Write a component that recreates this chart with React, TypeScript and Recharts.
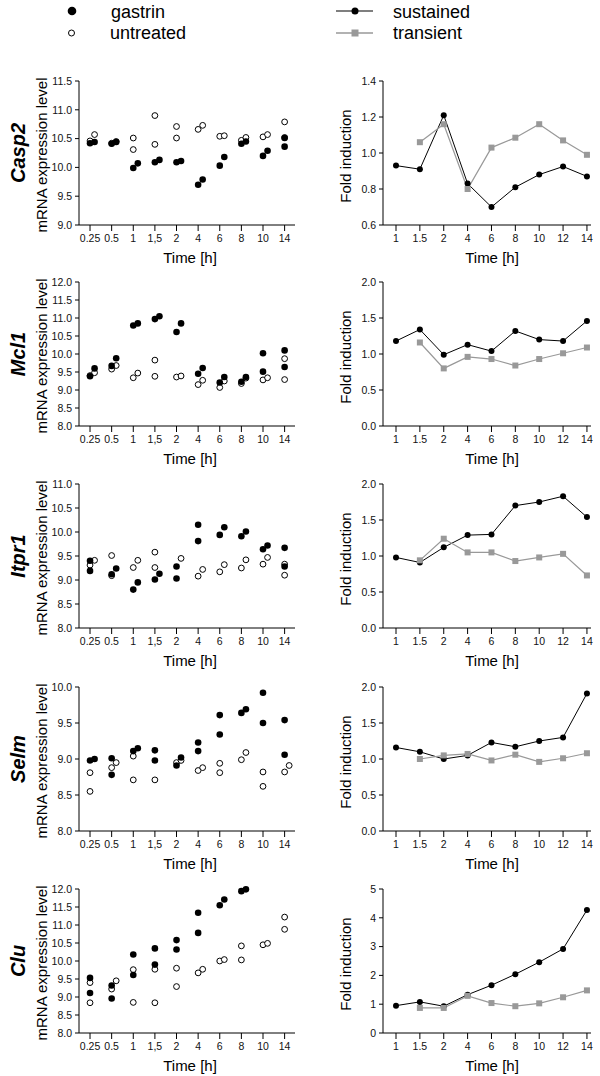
import React from 'react';
import { ScatterChart, Scatter, LineChart, Line, XAxis, YAxis } from 'recharts';

const FONT = '"Liberation Sans", Arial, Helvetica, sans-serif';

// ---------- categories / tick labels ----------
const timeLabelsLeft = ['0.25', '0.5', '1', '1,5', '2', '4', '6', '8', '10', '14'];
const timeLabelsRight = ['1', '1.5', '2', '4', '6', '8', '10', '12', '14'];
const genes = ['Casp2', 'Mcl1', 'Itpr1', 'Selm', 'Clu'];

// expression axis ticks
const casp2ExprTicks = [9.0, 9.5, 10.0, 10.5, 11.0, 11.5];
const mcl1ExprTicks = [8.0, 8.5, 9.0, 9.5, 10.0, 10.5, 11.0, 11.5, 12.0];
const itpr1ExprTicks = [8.0, 8.5, 9.0, 9.5, 10.0, 10.5, 11.0];
const selmExprTicks = [8.0, 8.5, 9.0, 9.5, 10.0];
const cluExprTicks = [8.0, 8.5, 9.0, 9.5, 10.0, 10.5, 11.0, 11.5, 12.0];

// fold-induction axis ticks
const casp2FoldTicks = [0.6, 0.8, 1.0, 1.2, 1.4];
const mcl1FoldTicks = [0.0, 0.5, 1.0, 1.5, 2.0];
const itpr1FoldTicks = [0.0, 0.5, 1.0, 1.5, 2.0];
const selmFoldTicks = [0.0, 0.5, 1.0, 1.5, 2.0];
const cluFoldTicks = [0, 1, 2, 3, 4, 5];

// ---------- replicate data: [time index, replicate (0 / 1 = side-shifted), value] ----------
const casp2Gastrin = [
  [0, 0, 10.42], [0, 1, 10.44], [1, 0, 10.41], [1, 1, 10.44], [2, 0, 9.99], [2, 1, 10.07],
  [3, 0, 10.09], [3, 1, 10.13], [4, 0, 10.09], [4, 1, 10.11], [5, 0, 9.70], [5, 1, 9.79],
  [6, 0, 10.03], [6, 1, 10.18], [7, 0, 10.41], [7, 1, 10.45], [8, 0, 10.20], [8, 1, 10.29],
  [9, 0, 10.51], [9, 0, 10.36],
];
const casp2Untreated = [
  [0, 0, 10.46], [0, 1, 10.57], [1, 0, 10.42], [1, 1, 10.45], [2, 0, 10.51], [2, 0, 10.31],
  [3, 0, 10.90], [3, 0, 10.40], [4, 0, 10.71], [4, 0, 10.51], [5, 0, 10.66], [5, 1, 10.73],
  [6, 0, 10.54], [6, 1, 10.55], [7, 0, 10.47], [7, 1, 10.52], [8, 0, 10.53], [8, 1, 10.57],
  [9, 0, 10.79], [9, 0, 10.52],
];
const mcl1Gastrin = [
  [0, 0, 9.38], [0, 1, 9.60], [1, 0, 9.67], [1, 1, 9.88], [2, 0, 10.79], [2, 1, 10.85],
  [3, 0, 10.97], [3, 1, 11.05], [4, 0, 10.61], [4, 1, 10.85], [5, 0, 9.45], [5, 1, 9.61],
  [6, 0, 9.21], [6, 1, 9.36], [7, 0, 9.23], [7, 1, 9.36], [8, 0, 10.02], [8, 0, 9.51],
  [9, 0, 10.10], [9, 0, 9.64],
];
const mcl1Untreated = [
  [0, 0, 9.40], [0, 1, 9.48], [1, 0, 9.58], [1, 1, 9.68], [2, 0, 9.34], [2, 1, 9.47],
  [3, 0, 9.83], [3, 0, 9.38], [4, 0, 9.36], [4, 1, 9.39], [5, 0, 9.15], [5, 1, 9.27],
  [6, 0, 9.07], [6, 1, 9.25], [7, 0, 9.18], [7, 1, 9.33], [8, 0, 9.28], [8, 1, 9.34],
  [9, 0, 9.87], [9, 0, 9.29],
];
const itpr1Gastrin = [
  [0, 0, 9.40], [0, 0, 9.19], [1, 0, 9.12], [1, 1, 9.24], [2, 0, 8.80], [2, 1, 8.95],
  [3, 0, 9.01], [3, 1, 9.13], [4, 0, 9.28], [4, 0, 9.03], [5, 0, 10.15], [5, 0, 9.81],
  [6, 0, 9.94], [6, 1, 10.10], [7, 0, 9.91], [7, 1, 10.01], [8, 0, 9.64], [8, 1, 9.72],
  [9, 0, 9.67], [9, 0, 9.28],
];
const itpr1Untreated = [
  [0, 0, 9.31], [0, 1, 9.41], [1, 0, 9.51], [1, 0, 9.09], [2, 0, 9.26], [2, 1, 9.41],
  [3, 0, 9.58], [3, 0, 9.26], [4, 1, 9.45], [5, 0, 9.08], [5, 1, 9.22],
  [6, 0, 9.17], [6, 1, 9.32], [7, 0, 9.25], [7, 1, 9.42], [8, 0, 9.33], [8, 1, 9.47],
  [9, 0, 9.33], [9, 0, 9.10],
];
const selmGastrin = [
  [0, 0, 8.98], [0, 1, 9.00], [1, 0, 9.01], [1, 0, 8.78], [2, 0, 9.11], [2, 1, 9.15],
  [3, 0, 9.12], [3, 0, 8.98], [4, 0, 8.91], [4, 1, 9.02], [5, 0, 9.23], [5, 0, 9.11],
  [6, 0, 9.61], [6, 0, 9.34], [7, 0, 9.64], [7, 1, 9.69], [8, 0, 9.92], [8, 0, 9.50],
  [9, 0, 9.54], [9, 0, 9.06],
];
const selmUntreated = [
  [0, 0, 8.81], [0, 0, 8.55], [1, 0, 8.88], [1, 1, 8.95], [2, 0, 9.04], [2, 0, 8.71],
  [3, 0, 8.71], [4, 0, 8.95], [4, 1, 8.98], [5, 0, 8.84], [5, 1, 8.88],
  [6, 0, 8.94], [6, 0, 8.81], [7, 0, 8.99], [7, 1, 9.09], [8, 0, 8.82], [8, 0, 8.62],
  [9, 0, 8.82], [9, 1, 8.91],
];
const cluGastrin = [
  [0, 0, 9.53], [0, 0, 9.11], [1, 0, 9.32], [1, 0, 8.96], [2, 0, 10.18], [2, 0, 9.61],
  [3, 0, 10.35], [3, 0, 9.90], [4, 0, 10.58], [4, 0, 10.32], [5, 0, 11.34], [5, 0, 10.78],
  [6, 0, 11.55], [6, 1, 11.71], [7, 0, 11.94], [7, 1, 11.99],
];
const cluUntreated = [
  [0, 0, 9.40], [0, 0, 8.84], [1, 0, 9.22], [1, 1, 9.45], [2, 0, 9.76], [2, 0, 8.85],
  [3, 0, 9.77], [3, 0, 8.84], [4, 0, 9.80], [4, 0, 9.29], [5, 0, 9.67], [5, 1, 9.77],
  [6, 0, 10.00], [6, 1, 10.04], [7, 0, 10.42], [7, 0, 10.03], [8, 0, 10.45], [8, 1, 10.49],
  [9, 0, 11.22], [9, 0, 10.88],
];

// ---------- fold induction (aligned with timeLabelsRight) ----------
const casp2Sustained = [0.93, 0.91, 1.21, 0.83, 0.70, 0.81, 0.88, 0.925, 0.87];
const casp2Transient = [null, 1.06, 1.16, 0.80, 1.03, 1.085, 1.16, 1.07, 0.99];
const mcl1Sustained = [1.18, 1.34, 0.99, 1.13, 1.04, 1.32, 1.20, 1.18, 1.46];
const mcl1Transient = [null, 1.16, 0.80, 0.96, 0.93, 0.84, 0.93, 1.01, 1.09];
const itpr1Sustained = [0.98, 0.91, 1.12, 1.29, 1.30, 1.70, 1.75, 1.83, 1.54];
const itpr1Transient = [null, 0.94, 1.24, 1.05, 1.05, 0.93, 0.98, 1.03, 0.73];
const selmSustained = [1.16, 1.10, 1.00, 1.05, 1.23, 1.17, 1.25, 1.30, 1.91];
const selmTransient = [null, 1.00, 1.05, 1.07, 0.98, 1.06, 0.96, 1.01, 1.08];
const cluSustained = [0.95, 1.08, 0.93, 1.33, 1.66, 2.04, 2.46, 2.92, 4.27];
const cluTransient = [null, 0.87, 0.87, 1.29, 1.04, 0.93, 1.03, 1.24, 1.48];

const panels = [
  { gene: genes[0], gastrin: casp2Gastrin, untreated: casp2Untreated, exprTicks: casp2ExprTicks, sustained: casp2Sustained, transient: casp2Transient, foldTicks: casp2FoldTicks, foldDigits: 1 },
  { gene: genes[1], gastrin: mcl1Gastrin, untreated: mcl1Untreated, exprTicks: mcl1ExprTicks, sustained: mcl1Sustained, transient: mcl1Transient, foldTicks: mcl1FoldTicks, foldDigits: 1 },
  { gene: genes[2], gastrin: itpr1Gastrin, untreated: itpr1Untreated, exprTicks: itpr1ExprTicks, sustained: itpr1Sustained, transient: itpr1Transient, foldTicks: itpr1FoldTicks, foldDigits: 1 },
  { gene: genes[3], gastrin: selmGastrin, untreated: selmUntreated, exprTicks: selmExprTicks, sustained: selmSustained, transient: selmTransient, foldTicks: selmFoldTicks, foldDigits: 1 },
  { gene: genes[4], gastrin: cluGastrin, untreated: cluUntreated, exprTicks: cluExprTicks, sustained: cluSustained, transient: cluTransient, foldTicks: cluFoldTicks, foldDigits: 0 },
];

// ---------- layout ----------
const PLOT_TOPS = [81, 282, 484, 687, 889];
const PLOT_H = 144;
const TOP_M = 10;
const XAXIS_H = 50;
const CHART_H = TOP_M + PLOT_H + XAXIS_H;
const JITTER = 0.21;

const tickStyle = { fontSize: 10.5, fill: '#111', fontFamily: FONT };
const axisLine = { stroke: '#000', strokeWidth: 1 };

const toPts = (arr: number[][]) => arr.map(([t, r, v]) => ({ x: t + r * JITTER, y: v }));

const FilledDot = (props: any) => {
  if (props.cx == null || props.cy == null) return <g />;
  return <circle cx={props.cx} cy={props.cy} r={3.3} fill="#000" stroke="none" />;
};
const OpenDot = (props: any) => {
  if (props.cx == null || props.cy == null) return <g />;
  return <circle cx={props.cx} cy={props.cy} r={2.9} fill="#fff" stroke="#000" strokeWidth={1} />;
};

const blackDot = (props: any) => {
  const { cx, cy, index, value } = props;
  if (cx == null || cy == null || value == null) return <g key={`s${index}`} />;
  return <circle key={`s${index}`} cx={cx} cy={cy} r={3} fill="#000" stroke="none" />;
};
const graySquare = (props: any) => {
  const { cx, cy, index, value } = props;
  if (cx == null || cy == null || value == null) return <g key={`t${index}`} />;
  return <rect key={`t${index}`} x={cx - 3} y={cy - 3} width={6} height={6} fill="#999" stroke="none" />;
};

function ExprPanel({ p, top }: any) {
  const ticks = p.exprTicks;
  return (
    <div style={{ position: 'absolute', left: 0, top: top - TOP_M }}>
      <ScatterChart width={300} height={CHART_H} margin={{ top: TOP_M, right: 5, bottom: 0, left: 0 }}>
        <XAxis
          type="number"
          dataKey="x"
          domain={[-0.51, 9.48]}
          ticks={timeLabelsLeft.map((_, i) => i)}
          interval={0}
          tickFormatter={(i: number) => timeLabelsLeft[i]}
          height={XAXIS_H}
          tickSize={6}
          tickMargin={4}
          axisLine={axisLine}
          tickLine={axisLine}
          tick={tickStyle}
        />
        <YAxis
          type="number"
          dataKey="y"
          domain={[ticks[0], ticks[ticks.length - 1]]}
          ticks={ticks}
          interval={0}
          width={79}
          tickSize={4}
          tickMargin={3}
          tickFormatter={(v: number) => v.toFixed(1)}
          axisLine={axisLine}
          tickLine={axisLine}
          tick={tickStyle}
        />
        <Scatter data={toPts(p.untreated)} isAnimationActive={false} shape={OpenDot} />
        <Scatter data={toPts(p.gastrin)} isAnimationActive={false} shape={FilledDot} />
      </ScatterChart>
    </div>
  );
}

function FoldPanel({ p, top }: any) {
  const ticks = p.foldTicks;
  const data = timeLabelsRight.map((_, i) => ({ x: i, s: p.sustained[i], t: p.transient[i] }));
  return (
    <div style={{ position: 'absolute', left: 300, top: top - TOP_M }}>
      <LineChart width={300} height={CHART_H} data={data} margin={{ top: TOP_M, right: 9, bottom: 0, left: 0 }}>
        <XAxis
          type="number"
          dataKey="x"
          domain={[-0.545, 8.17]}
          ticks={timeLabelsRight.map((_, i) => i)}
          interval={0}
          tickFormatter={(i: number) => timeLabelsRight[i]}
          height={XAXIS_H}
          tickSize={6}
          tickMargin={4}
          axisLine={axisLine}
          tickLine={axisLine}
          tick={tickStyle}
        />
        <YAxis
          type="number"
          domain={[ticks[0], ticks[ticks.length - 1]]}
          ticks={ticks}
          interval={0}
          width={83}
          tickSize={4}
          tickMargin={3}
          tickFormatter={(v: number) => v.toFixed(p.foldDigits)}
          axisLine={axisLine}
          tickLine={axisLine}
          tick={tickStyle}
        />
        <Line dataKey="s" stroke="#000" strokeWidth={1} dot={blackDot} activeDot={false} isAnimationActive={false} />
        <Line dataKey="t" stroke="#999" strokeWidth={1.2} dot={graySquare} activeDot={false} isAnimationActive={false} />
      </LineChart>
    </div>
  );
}

function Overlay() {
  return (
    <svg width={600} height={1076} style={{ position: 'absolute', left: 0, top: 0, pointerEvents: 'none' }} fontFamily={FONT}>
      {/* legend */}
      <circle cx={72} cy={11} r={4.3} fill="#000" />
      <text x={111} y={18} fontSize={18} fill="#000">gastrin</text>
      <circle cx={71.5} cy={33} r={3} fill="#fff" stroke="#000" strokeWidth={1} />
      <text x={110} y={39} fontSize={18} fill="#000">untreated</text>
      <line x1={336} x2={373} y1={11} y2={11} stroke="#000" strokeWidth={1.2} />
      <circle cx={355} cy={11} r={3.5} fill="#000" />
      <text x={393} y={18} fontSize={18} fill="#000">sustained</text>
      <line x1={336} x2={373} y1={33} y2={33} stroke="#999" strokeWidth={1.4} />
      <rect x={351.5} y={29.5} width={7} height={7} fill="#999" />
      <text x={393} y={39} fontSize={18} fill="#000">transient</text>

      {panels.map((p, i) => {
        const top = PLOT_TOPS[i];
        const cy = top + PLOT_H / 2;
        const bottom = top + PLOT_H;
        return (
          <g key={p.gene}>
            <text x={25} y={cy} transform={`rotate(-90 25 ${cy})`} textAnchor="middle" fontSize={20} fontWeight="bold" fontStyle="italic" fill="#000">{p.gene}</text>
            <text x={47} y={cy + 2} transform={`rotate(-90 47 ${cy + 2})`} textAnchor="middle" fontSize={15} fill="#000">mRNA expression level</text>
            <text x={351} y={cy + 3} transform={`rotate(-90 351 ${cy + 3})`} textAnchor="middle" fontSize={15} fill="#000">Fold induction</text>
            <text x={190} y={bottom + 38} textAnchor="middle" fontSize={15} fill="#000">Time [h]</text>
            <text x={492} y={bottom + 38} textAnchor="middle" fontSize={15} fill="#000">Time [h]</text>
          </g>
        );
      })}
    </svg>
  );
}

export default function App() {
  return (
    <div style={{ position: 'absolute', left: 0, top: 0, width: 600, height: 1076, background: '#fff', fontFamily: FONT }}>
      {panels.map((p, i) => (
        <ExprPanel key={`e${p.gene}`} p={p} top={PLOT_TOPS[i]} />
      ))}
      {panels.map((p, i) => (
        <FoldPanel key={`f${p.gene}`} p={p} top={PLOT_TOPS[i]} />
      ))}
      <Overlay />
    </div>
  );
}
